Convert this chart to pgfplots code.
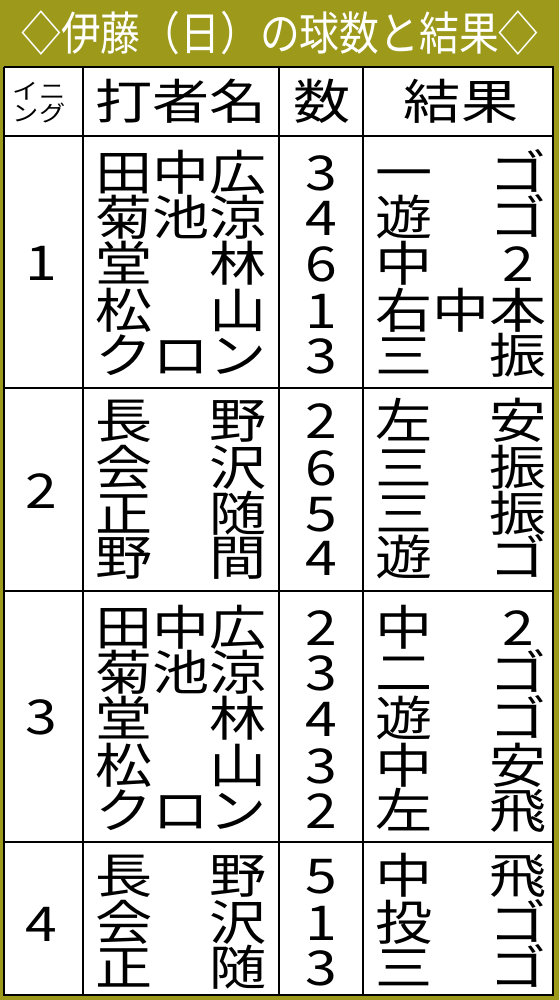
\documentclass[border=0pt]{standalone}
\usepackage{fontspec}
\usepackage{pgfplots}
\usepackage{pgfplotstable}
\pgfplotsset{compat=1.18}
\newfontfamily\jpbody[FakeStretch=1.19]{Noto Sans CJK JP}
\newfontfamily\jptitle[FakeStretch=0.865]{Noto Sans CJK JP}
\definecolor{olivebg}{RGB}{156,153,27}

% body text: x, y (pixels from top), text
\pgfplotstableread[col sep=comma]{
x,y,t
181,101,打者名
322,101,数
461,101,結果
41,262,1
41,490,2
41,716,3
41,923,4
181,172,田中広
181,217,菊池涼
181,263,堂　林
181,310,松　山
181,355,クロン
181,420,長　野
181,467,会　沢
181,513,正　随
181,557,野　間
181,627,田中広
181,672,菊池涼
181,718,堂　林
181,765,松　山
181,810,クロン
181,875,長　野
181,922,会　沢
181,967,正　随
321,172,3
321,217,4
321,263,6
321,310,1
321,355,3
321,420,2
321,467,6
321,513,5
321,557,4
321,627,2
321,672,3
321,718,4
321,765,3
321,810,2
321,875,5
321,922,1
321,967,3
461,172,一　ゴ
461,217,遊　ゴ
404,263,中
518,263,2
461,310,右中本
461,355,三　振
461,420,左　安
461,467,三　振
461,513,三　振
461,557,遊　ゴ
404,627,中
518,627,2
461,672,二　ゴ
461,718,遊　ゴ
461,765,中　安
461,810,左　飛
461,875,中　飛
461,922,投　ゴ
461,967,三　ゴ
}\bodytext

\pgfplotstableread[col sep=comma]{
x,y,t
39,91,イニ
39,113,ング
}\smalltext

\pgfplotstableread[col sep=comma]{
x,y,t
280,33,◇伊藤（日）の球数と結果◇
}\titletext

\begin{document}
\begin{tikzpicture}
\begin{axis}[
  scale only axis,
  width=559pt, height=1000pt,
  xmin=0, xmax=559, ymin=0, ymax=1000,
  y dir=reverse,
  hide axis,
  clip=false,
  textplot/.style={
    only marks, mark=*, mark size=0pt,
    mark options={draw=none, fill=none},
    nodes near coords,
    point meta=explicit symbolic,
  },
]
% background and table frame
\addplot[draw=none, fill=olivebg] coordinates {(0,0) (559,0) (559,1000) (0,1000) (0,0)};
\addplot[fill=white, draw=black, line width=2pt] coordinates {(3.5,67) (553,67) (553,995) (3.5,995) (3.5,67)};

% column rules
\addplot[black, line width=2pt] coordinates {(83,67) (83,995)};
\addplot[black, line width=2pt] coordinates {(279,67) (279,995)};
\addplot[black, line width=2pt] coordinates {(363,67) (363,995)};
% row rules
\addplot[black, line width=2pt] coordinates {(3.5,136) (553,136)};
\addplot[black, line width=2pt] coordinates {(3.5,388) (553,388)};
\addplot[black, line width=2pt] coordinates {(3.5,591) (553,591)};
\addplot[black, line width=2pt] coordinates {(3.5,842) (553,842)};

% texts
\addplot[textplot, every node near coord/.append style={anchor=center, inner sep=0pt,
    text height=42.2pt, text depth=5.8pt, text=black,
    font=\jpbody\fontsize{48}{48}\selectfont}]
  table[x=x, y=y, meta=t] {\bodytext};
\addplot[textplot, every node near coord/.append style={anchor=center, inner sep=0pt,
    text height=19.4pt, text depth=2.6pt, text=black,
    font=\jpbody\fontsize{22}{22}\selectfont}]
  table[x=x, y=y, meta=t] {\smalltext};
\addplot[textplot, every node near coord/.append style={anchor=center, inner sep=0pt,
    text height=40.5pt, text depth=5.5pt, text=white,
    font=\jptitle\fontsize{46}{46}\selectfont}]
  table[x=x, y=y, meta=t] {\titletext};
\end{axis}
\end{tikzpicture}
\end{document}
